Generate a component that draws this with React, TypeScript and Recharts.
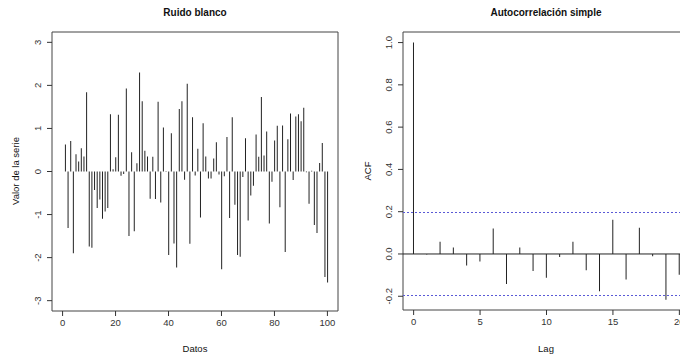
import React from "react"
import { BarChart, Bar, XAxis, YAxis, ReferenceLine, ReferenceArea } from "recharts"

// white noise series, 100 points
const noiseValues = [
  0.63, -1.31, 0.71, -1.90, 0.40, 0.23, 0.54, 0.35, 1.84, -1.74,
  -1.77, -0.43, -0.85, -0.65, -1.10, -0.93, -0.85, 1.33, 0.05, 0.33,
  1.32, -0.10, -0.06, 1.93, -1.50, 0.45, -1.39, 0.19, 2.30, 1.63,
  0.48, 0.35, -0.63, 0.34, -0.64, 1.62, -0.72, 1.02, 0.01, -1.94,
  0.89, -1.67, -2.23, 1.45, 1.63, -0.19, 2.04, -1.68, 1.26, -0.09,
  0.53, -1.07, 1.12, 0.35, -0.16, -0.16, 0.30, 0.68, -0.07, -2.27,
  -0.11, 0.80, -1.08, 1.26, -0.77, -1.94, -1.98, -0.13, 0.77, -1.14,
  -0.56, -0.33, 0.86, 0.34, 1.73, 0.37, 0.93, -1.21, -0.24, 0.72,
  1.06, -0.83, 1.07, -1.87, 0.75, 1.35, -0.20, 1.28, 1.33, 1.17,
  1.48, -0.02, -0.75, 0.02, -1.24, -1.43, 0.20, 0.66, -2.45, -2.58,
]
const noiseXTicks = [0, 20, 40, 60, 80, 100]
const noiseYTicks = [-3, -2, -1, 0, 1, 2, 3]

const acfLags = [0, 1, 2, 3, 4, 5, 6, 7, 8, 9, 10, 11, 12, 13, 14, 15, 16, 17, 18, 19, 20]
const acfValues = [
  1.0, -0.002, 0.058, 0.031, -0.054, -0.035, 0.12, -0.142, 0.031, -0.08,
  -0.113, -0.014, 0.058, -0.077, -0.176, 0.162, -0.121, 0.124, -0.011, -0.216, -0.098,
]
const acfXTicks = [0, 5, 10, 15, 20]
const acfYTicks = [-0.2, 0, 0.2, 0.4, 0.6, 0.8, 1.0]
const acfLimit = 0.196

const noiseData = noiseValues.map((v, i) => ({ i: i + 1, v }))
const acfData = acfLags.map((lag, i) => ({ lag, v: acfValues[i] }))

const FONT = '"Liberation Sans", Arial, Helvetica, sans-serif'
const INK = "#222"
const LIMIT_BLUE = "#5a5ad6"

const XTick = ({ x, y, payload }: any) => (
  <text x={x} y={y} dy={8} textAnchor="middle" fontSize={9.5} fill="#333" fontFamily={FONT}>
    {payload.value}
  </text>
)

const makeYTick = (fmt: (v: number) => string) => ({ x, y, payload }: any) => (
  <text
    x={x}
    y={y}
    transform={`rotate(-90 ${x} ${y})`}
    textAnchor="middle"
    fontSize={9.5}
    fill="#333"
    fontFamily={FONT}
  >
    {fmt(payload.value)}
  </text>
)

const NoiseYTick = makeYTick((v) => String(v))
const AcfYTick = makeYTick((v) => v.toFixed(1))

const abs = (style: React.CSSProperties): React.CSSProperties => ({
  position: "absolute",
  fontFamily: FONT,
  whiteSpace: "nowrap",
  color: "#111",
  ...style,
})

export default function App() {
  return (
    <div style={{ position: "absolute", left: 0, top: 0, width: 680, height: 355, overflow: "hidden", background: "#fff" }}>
      {/* left panel */}
      <div style={{ position: "absolute", left: 0, top: 0 }}>
        <BarChart width={340} height={355} data={noiseData} margin={{ top: 32, right: 2, bottom: 14, left: 0 }}>
          <XAxis
            dataKey="i"
            type="number"
            domain={[-4, 104]}
            allowDataOverflow
            ticks={noiseXTicks}
            interval={0}
            height={30}
            axisLine={false}
            tickLine={{ stroke: "#333" }}
            tickSize={5}
            tickMargin={2}
            tick={<XTick />}
          />
          <YAxis
            type="number"
            domain={[-3.24, 3.24]}
            allowDataOverflow
            ticks={noiseYTicks}
            interval={0}
            width={52}
            axisLine={false}
            tickLine={{ stroke: "#333" }}
            tickSize={5}
            tickMargin={6}
            tick={<NoiseYTick />}
          />
          <ReferenceArea x1={-4} x2={104} y1={-3.24} y2={3.24} fill="none" stroke="#444" ifOverflow="visible" />
          <Bar dataKey="v" barSize={1} fill={INK} isAnimationActive={false} />
        </BarChart>
      </div>

      {/* right panel */}
      <div style={{ position: "absolute", left: 340, top: 0 }}>
        <BarChart width={360} height={355} data={acfData} margin={{ top: 32, right: 10, bottom: 15, left: 0 }}>
          <XAxis
            dataKey="lag"
            type="number"
            domain={[-0.8, 20.8]}
            allowDataOverflow
            ticks={acfXTicks}
            interval={0}
            height={30}
            axisLine={false}
            tickLine={{ stroke: "#333" }}
            tickSize={5}
            tickMargin={2}
            tick={<XTick />}
          />
          <YAxis
            type="number"
            domain={[-0.265, 1.05]}
            allowDataOverflow
            ticks={acfYTicks}
            interval={0}
            width={63}
            axisLine={false}
            tickLine={{ stroke: "#333" }}
            tickSize={5}
            tickMargin={6}
            tick={<AcfYTick />}
          />
          <ReferenceArea x1={-0.8} x2={20.8} y1={-0.265} y2={1.05} fill="none" stroke="#444" ifOverflow="visible" />
          <ReferenceLine y={0} stroke={INK} />
          <ReferenceLine y={acfLimit} stroke={LIMIT_BLUE} strokeDasharray="2 2" shapeRendering="crispEdges" />
          <ReferenceLine y={-acfLimit} stroke={LIMIT_BLUE} strokeDasharray="2 2" shapeRendering="crispEdges" />
          <Bar dataKey="v" barSize={1} fill={INK} isAnimationActive={false} />
        </BarChart>
      </div>

      {/* titles and axis labels */}
      <div style={abs({ left: 195, top: 12, transform: "translate(-50%, -50%)", fontSize: 10, fontWeight: "bold" })}>
        Ruido blanco
      </div>
      <div style={abs({ left: 195, top: 348, transform: "translate(-50%, -50%)", fontSize: 9.5 })}>Datos</div>
      <div style={abs({ left: 15, top: 171, transform: "translate(-50%, -50%) rotate(-90deg)", fontSize: 9.5 })}>
        Valor de la serie
      </div>

      <div style={abs({ left: 546, top: 12, transform: "translate(-50%, -50%)", fontSize: 10, fontWeight: "bold" })}>
        Autocorrelación simple
      </div>
      <div style={abs({ left: 546, top: 348, transform: "translate(-50%, -50%)", fontSize: 9.5 })}>Lag</div>
      <div style={abs({ left: 367, top: 171, transform: "translate(-50%, -50%) rotate(-90deg)", fontSize: 9.5 })}>
        ACF
      </div>
    </div>
  )
}
